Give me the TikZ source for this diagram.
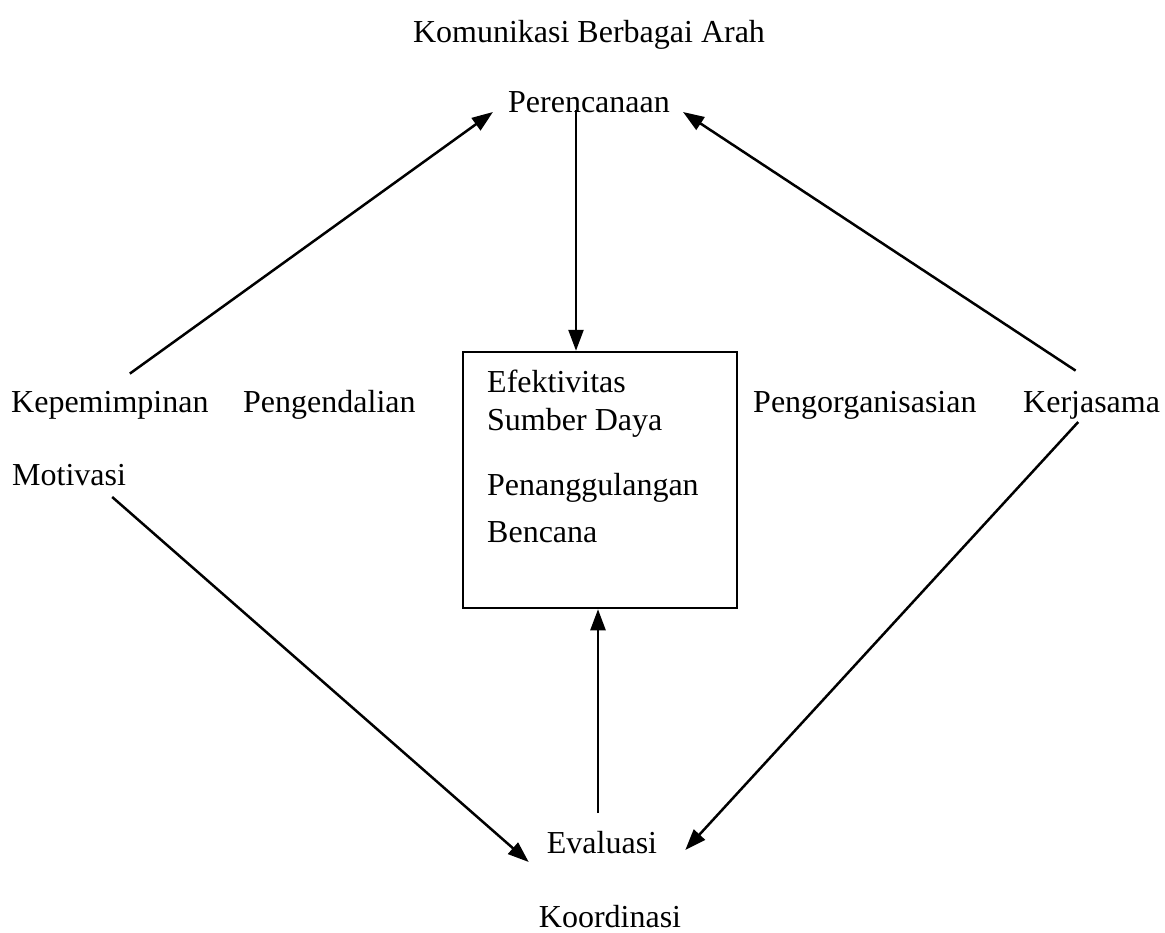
\documentclass[tikz,border=0pt]{standalone}
\usepackage{fontspec}
\setmainfont{Liberation Serif}
\usetikzlibrary{arrows.meta}
\tikzset{
  lbl/.style={inner sep=0pt, font=\fontsize{32}{38}\selectfont},
  arr/.style={line width=2.5pt, -{Triangle[length=21pt,width=15pt]}},
  boxst/.style={draw, line width=2.5pt, minimum width=274pt, minimum height=256pt, inner sep=0pt}
}
\begin{document}
\begin{tikzpicture}[x=1pt,y=-1pt]
\useasboundingbox (0,0) rectangle (1165,932);
\node[lbl, anchor=base] (kom) at (589,42) {Komunikasi Berbagai Arah};
\node[lbl, anchor=base] (per) at (589,112) {Perencanaan};
\node[boxst] (box) at (600,480) {};
\node[lbl, anchor=base west] (eff) at (487,392) {Efektivitas};
\node[lbl, anchor=base west] (sd) at (487,430) {Sumber Daya};
\node[lbl, anchor=base west] (pen) at (487,495) {Penanggulangan};
\node[lbl, anchor=base west] (ben) at (487,542) {Bencana};
\node[lbl, anchor=base west] (kep) at (11,412) {Kepemimpinan};
\node[lbl, anchor=base west] (pgd) at (243,412) {Pengendalian};
\node[lbl, anchor=base west] (org) at (753,412) {Pengorganisasian};
\node[lbl, anchor=base west] (ker) at (1023,412) {Kerjasama};
\node[lbl, anchor=base west] (mot) at (12,485) {Motivasi};
\node[lbl, anchor=base] (eval) at (602,853) {Evaluasi};
\node[lbl, anchor=base] (koo) at (610,927) {Koordinasi};
% connectors
\draw[arr] ([shift={(20pt,17pt)}]kep.north) -- ([xshift=-15pt]per.base west);
\draw[arr] ([shift={(-16pt,20pt)}]ker.north) -- ([xshift=13pt]per.base east);
\draw[arr] ([xshift=-13pt,yshift=2pt]per.base) -- ([xshift=-24pt]box.north);
\draw[arr] ([shift={(-4pt,40pt)}]eval.base) -- ([xshift=-2pt]box.south);
\draw[arr] ([shift={(-14pt,-12pt)}]mot.base east) -- ([shift={(-18pt,-9pt)}]eval.base west);
\draw[arr] ([shift={(-82pt,-10pt)}]ker.base east) -- ([shift={(28pt,3pt)}]eval.base east);
\end{tikzpicture}
\end{document}
